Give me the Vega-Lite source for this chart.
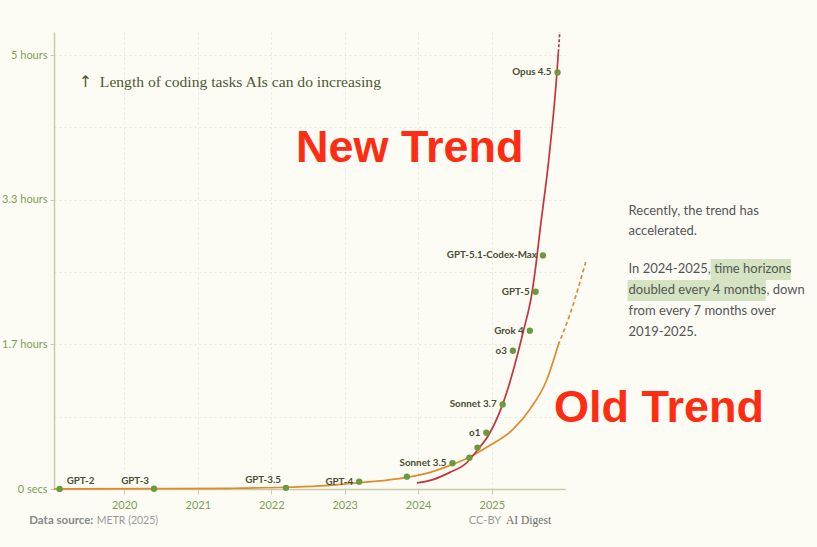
{
  "$schema": "https://vega.github.io/schema/vega-lite/v6.json",
  "width": 511,
  "height": 457,
  "autosize": {"type": "none"},
  "padding": {"left": 54, "top": 32, "right": 252, "bottom": 58},
  "background": "#fcfcf5",
  "config": {
    "view": {"stroke": null},
    "font": "Lato",
    "axis": {
      "labelFont": "Lato",
      "labelFontSize": 11,
      "labelColor": "#7f9c55",
      "domainColor": "#c8cba6",
      "domainWidth": 1.5,
      "grid": true,
      "gridColor": "#e6e7dc",
      "gridDash": [2, 3]
    }
  },
  "datasets": {
    "models": [
      {"date": "2019-02-14", "minutes": 0.05, "label": "GPT-2"},
      {"date": "2020-05-28", "minutes": 0.15, "label": "GPT-3"},
      {"date": "2022-03-15", "minutes": 0.8, "label": "GPT-3.5"},
      {"date": "2023-03-14", "minutes": 5, "label": "GPT-4"},
      {"date": "2023-11-06", "minutes": 8.5, "label": ""},
      {"date": "2024-06-20", "minutes": 17.8, "label": "Sonnet 3.5"},
      {"date": "2024-09-12", "minutes": 21.6, "label": ""},
      {"date": "2024-10-22", "minutes": 28.5, "label": ""},
      {"date": "2024-12-05", "minutes": 38.9, "label": "o1"},
      {"date": "2025-02-24", "minutes": 58.5, "label": "Sonnet 3.7"},
      {"date": "2025-04-16", "minutes": 95.6, "label": "o3"},
      {"date": "2025-07-09", "minutes": 109.4, "label": "Grok 4"},
      {"date": "2025-08-07", "minutes": 136.4, "label": "GPT-5"},
      {"date": "2025-09-12", "minutes": 161.5, "label": "GPT-5.1-Codex-Max"},
      {"date": "2025-11-24", "minutes": 288, "label": "Opus 4.5"}
    ],
    "trends": [
      {"trend": "old", "part": "fit", "date": "2019-01-17", "minutes": 0.05},
      {"trend": "old", "part": "fit", "date": "2020-06-01", "minutes": 0.2},
      {"trend": "old", "part": "fit", "date": "2021-06-01", "minutes": 0.5},
      {"trend": "old", "part": "fit", "date": "2022-03-15", "minutes": 1.2},
      {"trend": "old", "part": "fit", "date": "2022-10-01", "minutes": 2.3},
      {"trend": "old", "part": "fit", "date": "2023-03-14", "minutes": 4.4},
      {"trend": "old", "part": "fit", "date": "2023-08-01", "minutes": 6.2},
      {"trend": "old", "part": "fit", "date": "2023-11-06", "minutes": 8.0},
      {"trend": "old", "part": "fit", "date": "2024-03-01", "minutes": 11.5},
      {"trend": "old", "part": "fit", "date": "2024-06-20", "minutes": 17},
      {"trend": "old", "part": "fit", "date": "2024-09-12", "minutes": 22},
      {"trend": "old", "part": "fit", "date": "2024-12-15", "minutes": 29.5},
      {"trend": "old", "part": "fit", "date": "2025-04-15", "minutes": 41},
      {"trend": "old", "part": "fit", "date": "2025-07-09", "minutes": 55},
      {"trend": "old", "part": "fit", "date": "2025-09-30", "minutes": 75},
      {"trend": "old", "part": "fit", "date": "2025-11-27", "minutes": 99.5},
      {"trend": "old", "part": "proj", "date": "2025-11-27", "minutes": 99.5},
      {"trend": "old", "part": "proj", "date": "2026-01-25", "minutes": 121},
      {"trend": "old", "part": "proj", "date": "2026-04-13", "minutes": 157},
      {"trend": "new", "part": "fit", "date": "2023-12-26", "minutes": 4.2},
      {"trend": "new", "part": "fit", "date": "2024-03-15", "minutes": 6.5},
      {"trend": "new", "part": "fit", "date": "2024-06-07", "minutes": 11.5},
      {"trend": "new", "part": "fit", "date": "2024-08-20", "minutes": 17},
      {"trend": "new", "part": "fit", "date": "2024-10-22", "minutes": 27},
      {"trend": "new", "part": "fit", "date": "2024-12-15", "minutes": 37},
      {"trend": "new", "part": "fit", "date": "2025-02-24", "minutes": 58.5},
      {"trend": "new", "part": "fit", "date": "2025-05-11", "minutes": 94},
      {"trend": "new", "part": "fit", "date": "2025-06-05", "minutes": 108},
      {"trend": "new", "part": "fit", "date": "2025-07-19", "minutes": 135},
      {"trend": "new", "part": "fit", "date": "2025-08-13", "minutes": 160},
      {"trend": "new", "part": "fit", "date": "2025-08-28", "minutes": 178},
      {"trend": "new", "part": "fit", "date": "2025-10-10", "minutes": 226},
      {"trend": "new", "part": "fit", "date": "2025-11-21", "minutes": 288},
      {"trend": "new", "part": "fit", "date": "2025-11-28", "minutes": 302},
      {"trend": "new", "part": "proj", "date": "2025-11-28", "minutes": 302},
      {"trend": "new", "part": "proj", "date": "2025-12-05", "minutes": 316}
    ]
  },
  "layer": [
    {
      "data": {"name": "trends"},
      "transform": [{"filter": "datum.trend == 'old' && datum.part == 'fit'"}],
      "mark": {"type": "line", "color": "#e08a2e", "strokeWidth": 1.7, "interpolate": "monotone", "clip": false},
      "encoding": {
        "x": {
          "field": "date", "type": "temporal", "title": null,
          "scale": {"type": "utc", "domain": [{"year": 2019, "month": 1, "date": 17, "utc": true}, {"year": 2025, "month": 12, "date": 31, "utc": true}]},
          "axis": {
            "title": null,
            "values": [
              {"year": 2020, "month": 1, "date": 1, "utc": true},
              {"year": 2021, "month": 1, "date": 1, "utc": true},
              {"year": 2022, "month": 1, "date": 1, "utc": true},
              {"year": 2023, "month": 1, "date": 1, "utc": true},
              {"year": 2024, "month": 1, "date": 1, "utc": true},
              {"year": 2025, "month": 1, "date": 1, "utc": true}
            ],
            "format": "%Y",
            "labelPadding": 5,
            "tickSize": 5,
            "tickColor": "#c8cba6"
          }
        },
        "y": {
          "field": "minutes", "type": "quantitative", "title": null,
          "scale": {"domain": [0, 316], "nice": false},
          "axis": {
            "title": null,
            "values": [0, 50, 100, 150, 200, 250, 300],
            "labelExpr": "datum.value == 0 ? '0 secs' : datum.value == 100 ? '1.7 hours' : datum.value == 200 ? '3.3 hours' : datum.value == 300 ? '5 hours' : ''",
            "labelPadding": 3,
            "tickSize": 4,
            "tickColor": {"condition": {"test": "datum.value % 100 === 0", "value": "#c8cba6"}, "value": "rgba(0,0,0,0)"}
          }
        }
      }
    },
    {
      "data": {"name": "trends"},
      "transform": [{"filter": "datum.trend == 'old' && datum.part == 'proj'"}],
      "mark": {"type": "line", "color": "#e08a2e", "strokeWidth": 1.7, "strokeDash": [4, 3], "interpolate": "monotone", "clip": false},
      "encoding": {
        "x": {"field": "date", "type": "temporal", "title": null},
        "y": {"field": "minutes", "type": "quantitative", "title": null}
      }
    },
    {
      "data": {"name": "trends"},
      "transform": [{"filter": "datum.trend == 'new' && datum.part == 'fit'"}],
      "mark": {"type": "line", "color": "#c5343d", "strokeWidth": 1.7, "interpolate": "monotone", "clip": false},
      "encoding": {
        "x": {"field": "date", "type": "temporal", "title": null},
        "y": {"field": "minutes", "type": "quantitative", "title": null}
      }
    },
    {
      "data": {"name": "trends"},
      "transform": [{"filter": "datum.trend == 'new' && datum.part == 'proj'"}],
      "mark": {"type": "line", "color": "#c5343d", "strokeWidth": 1.7, "strokeDash": [3, 2], "interpolate": "monotone", "clip": false},
      "encoding": {
        "x": {"field": "date", "type": "temporal", "title": null},
        "y": {"field": "minutes", "type": "quantitative", "title": null}
      }
    },
    {
      "data": {"name": "models"},
      "mark": {"type": "circle", "color": "#6b9a3c", "size": 40, "opacity": 1},
      "encoding": {
        "x": {"field": "date", "type": "temporal", "title": null},
        "y": {"field": "minutes", "type": "quantitative", "title": null}
      }
    },
    {
      "data": {"name": "models"},
      "transform": [{"filter": "datum.label != '' && datum.label != 'GPT-2' && datum.label != 'GPT-3' && datum.label != 'GPT-3.5'"}],
      "mark": {"type": "text", "align": "right", "baseline": "middle", "dx": -6, "font": "Lato", "fontSize": 9.8, "fontWeight": "bold", "color": "#474e32"},
      "encoding": {
        "x": {"field": "date", "type": "temporal", "title": null},
        "y": {"field": "minutes", "type": "quantitative", "title": null},
        "text": {"field": "label"}
      }
    },
    {
      "data": {"name": "models"},
      "transform": [{"filter": "datum.label == 'GPT-3' || datum.label == 'GPT-3.5'"}],
      "mark": {"type": "text", "align": "right", "baseline": "middle", "dx": -5, "dy": -8, "font": "Lato", "fontSize": 9.8, "fontWeight": "bold", "color": "#474e32"},
      "encoding": {
        "x": {"field": "date", "type": "temporal", "title": null},
        "y": {"field": "minutes", "type": "quantitative", "title": null},
        "text": {"field": "label"}
      }
    },
    {
      "data": {"name": "models"},
      "transform": [{"filter": "datum.label == 'GPT-2'"}],
      "mark": {"type": "text", "align": "left", "baseline": "middle", "dx": 7, "dy": -8, "font": "Lato", "fontSize": 9.8, "fontWeight": "bold", "color": "#474e32"},
      "encoding": {
        "x": {"field": "date", "type": "temporal", "title": null},
        "y": {"field": "minutes", "type": "quantitative", "title": null},
        "text": {"field": "label"}
      }
    },
    {
      "data": {"values": [{"k": 1}]},
      "mark": {"type": "text", "align": "left", "baseline": "middle", "font": "DejaVu Sans", "fontSize": 16, "color": "#4d5a32", "text": "↑"},
      "encoding": {
        "x": {"datum": 1558310400000, "type": "temporal"},
        "y": {"datum": 281.3, "type": "quantitative"}
      }
    },
    {
      "data": {"values": [{"k": 1}]},
      "mark": {"type": "text", "align": "left", "baseline": "middle", "font": "Liberation Serif", "fontSize": 15.6, "color": "#4d5a32", "text": "Length of coding tasks AIs can do increasing"},
      "encoding": {
        "x": {"datum": 1567382400000, "type": "temporal"},
        "y": {"datum": 281.3, "type": "quantitative"}
      }
    },
    {
      "data": {"values": [{"k": 1}]},
      "mark": {"type": "text", "align": "center", "baseline": "middle", "font": "Liberation Sans", "fontSize": 45, "fontWeight": "bold", "color": "#fc2d12", "text": "New Trend"},
      "encoding": {
        "x": {"datum": 1700438400000, "type": "temporal"},
        "y": {"datum": 235.7, "type": "quantitative"}
      }
    },
    {
      "data": {"values": [{"k": 1}]},
      "mark": {"type": "text", "align": "center", "baseline": "middle", "font": "Liberation Sans", "fontSize": 45, "fontWeight": "bold", "color": "#fc2d12", "text": "Old Trend"},
      "encoding": {
        "x": {"datum": 1807488000000, "type": "temporal"},
        "y": {"datum": 56, "type": "quantitative"}
      }
    },
    {
      "data": {"values": [{"k": 1}]},
      "mark": {"type": "rect", "color": "#d4e3c1", "clip": false},
      "encoding": {
        "x": {"datum": 1829692800000, "type": "temporal"},
        "x2": {"datum": 1864166400000},
        "y": {"datum": 159.0, "type": "quantitative"},
        "y2": {"datum": 144.5}
      }
    },
    {
      "data": {"values": [{"k": 1}]},
      "mark": {"type": "rect", "color": "#d4e3c1", "clip": false},
      "encoding": {
        "x": {"datum": 1794009600000, "type": "temporal"},
        "x2": {"datum": 1853366400000},
        "y": {"datum": 144.5, "type": "quantitative"},
        "y2": {"datum": 130.0}
      }
    },
    {
      "data": {"values": [{"k": 1}]},
      "mark": {"type": "text", "align": "left", "baseline": "middle", "font": "Lato", "fontSize": 13, "color": "#555555", "text": "Recently, the trend has"},
      "encoding": {
        "x": {"datum": 1794441600000, "type": "temporal"},
        "y": {"datum": 192.2, "type": "quantitative"}
      }
    },
    {
      "data": {"values": [{"k": 1}]},
      "mark": {"type": "text", "align": "left", "baseline": "middle", "font": "Lato", "fontSize": 13, "color": "#555555", "text": "accelerated."},
      "encoding": {
        "x": {"datum": 1794441600000, "type": "temporal"},
        "y": {"datum": 178.3, "type": "quantitative"}
      }
    },
    {
      "data": {"values": [{"k": 1}]},
      "mark": {"type": "text", "align": "left", "baseline": "middle", "font": "Lato", "fontSize": 13, "color": "#555555", "text": "In 2024-2025, time horizons"},
      "encoding": {
        "x": {"datum": 1794441600000, "type": "temporal"},
        "y": {"datum": 152.1, "type": "quantitative"}
      }
    },
    {
      "data": {"values": [{"k": 1}]},
      "mark": {"type": "text", "align": "left", "baseline": "middle", "font": "Lato", "fontSize": 13, "color": "#555555", "text": "doubled every 4 months, down"},
      "encoding": {
        "x": {"datum": 1794441600000, "type": "temporal"},
        "y": {"datum": 137.6, "type": "quantitative"}
      }
    },
    {
      "data": {"values": [{"k": 1}]},
      "mark": {"type": "text", "align": "left", "baseline": "middle", "font": "Lato", "fontSize": 13, "color": "#555555", "text": "from every 7 months over"},
      "encoding": {
        "x": {"datum": 1794441600000, "type": "temporal"},
        "y": {"datum": 123.0, "type": "quantitative"}
      }
    },
    {
      "data": {"values": [{"k": 1}]},
      "mark": {"type": "text", "align": "left", "baseline": "middle", "font": "Lato", "fontSize": 13, "color": "#555555", "text": "2019-2025."},
      "encoding": {
        "x": {"datum": 1794441600000, "type": "temporal"},
        "y": {"datum": 108.5, "type": "quantitative"}
      }
    },
    {
      "data": {"values": [{"k": 1}]},
      "mark": {"type": "text", "align": "left", "baseline": "middle", "font": "Lato", "fontSize": 11.5, "fontWeight": "bold", "color": "#888888", "text": "Data source:"},
      "encoding": {
        "x": {"datum": 1537056000000, "type": "temporal"},
        "y": {"datum": -22.1, "type": "quantitative"}
      }
    },
    {
      "data": {"values": [{"k": 1}]},
      "mark": {"type": "text", "align": "left", "baseline": "middle", "font": "Lato", "fontSize": 10.5, "color": "#9a9a9a", "text": "METR (2025)"},
      "encoding": {
        "x": {"datum": 1566086400000, "type": "temporal"},
        "y": {"datum": -22.1, "type": "quantitative"}
      }
    },
    {
      "data": {"values": [{"k": 1}]},
      "mark": {"type": "text", "align": "center", "baseline": "middle", "font": "Lato", "fontSize": 11, "color": "#9a9a9a", "text": "CC-BY"},
      "encoding": {
        "x": {"datum": 1732752000000, "type": "temporal"},
        "y": {"datum": -22.1, "type": "quantitative"}
      }
    },
    {
      "data": {"values": [{"k": 1}]},
      "mark": {"type": "text", "align": "left", "baseline": "middle", "font": "Liberation Serif", "fontSize": 11.5, "color": "#6a6a6a", "text": "AI Digest"},
      "encoding": {
        "x": {"datum": 1741824000000, "type": "temporal"},
        "y": {"datum": -22.1, "type": "quantitative"}
      }
    }
  ]
}
